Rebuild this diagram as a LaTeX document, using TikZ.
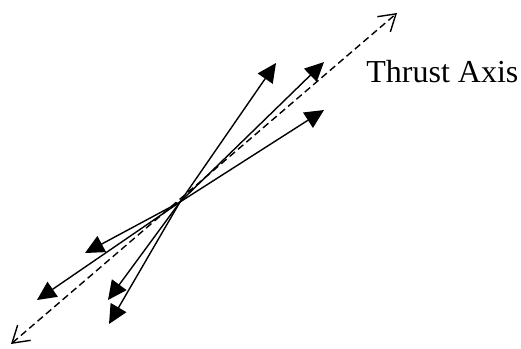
\documentclass[tikz,border=0pt]{standalone}
\usepackage{fontspec}
\setmainfont{Liberation Serif}
\usetikzlibrary{arrows.meta}

\begin{document}
\begin{tikzpicture}[
        x=0.5pt, y=-0.5pt,
        force/.style={-{Triangle[length=9.5pt, width=9pt]}, line width=0.7pt, black},
        axis/.style={{Straight Barb[length=8pt, width=10pt]}-{Straight Barb[length=8pt, width=10pt]}, line width=0.7pt, dash pattern=on 3.5pt off 2pt}
    ]
        \useasboundingbox (0,0) rectangle (521,349);

        \coordinate (c) at (180,202);
        \coordinate (ax1) at (11,344);
        \coordinate (ax2) at (397,13);

        \coordinate (f1) at (276,63);
        \coordinate (f2) at (324,62);
        \coordinate (f3) at (324,110);
        \coordinate (f4) at (85,253);
        \coordinate (f5) at (37,300);
        \coordinate (f6) at (108,300);
        \coordinate (f7) at (109,324);

        \draw [axis] (ax1) -- (ax2);

        \draw [force] (c) -- (f1);
        \draw [force] (c) -- (f2);
        \draw [force] (c) -- (f3);
        \draw [force] (c) -- (f4);
        \draw [force] (c) -- (f5);
        \draw [force] (c) -- (f6);
        \draw [force] (c) -- (f7);

        \node (lbl) [anchor=base west, inner sep=0pt, font=\fontsize{16pt}{19pt}\selectfont] at (366,82) {Thrust Axis};
    \end{tikzpicture}
\end{document}
